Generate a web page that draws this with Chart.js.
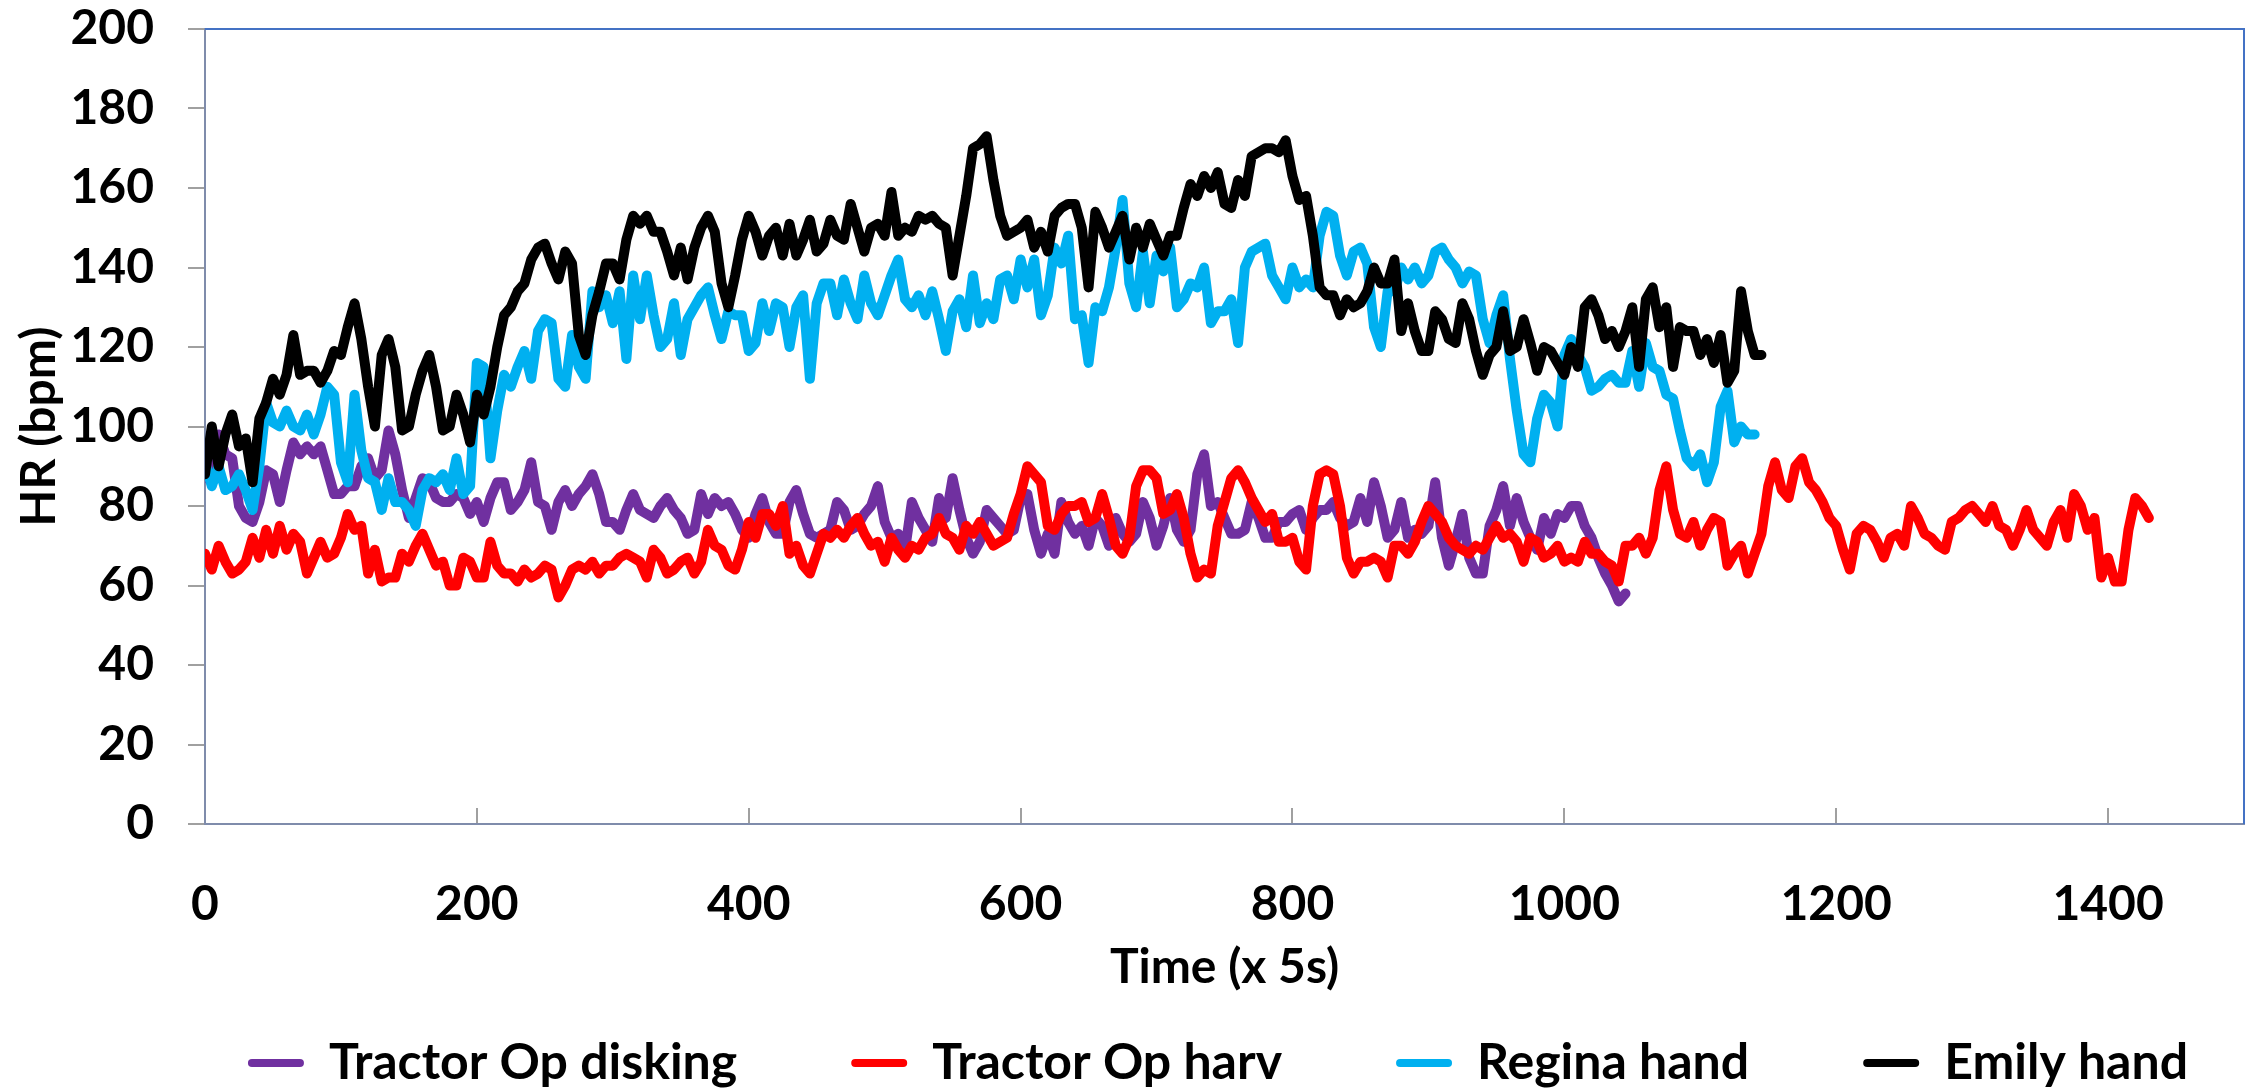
<!DOCTYPE html>
<html>
<head>
<meta charset="utf-8">
<title>HR over time</title>
<script src="https://cdn.jsdelivr.net/npm/chart.js@4.4.1/dist/chart.umd.min.js"></script>
<style>
  html, body { margin: 0; padding: 0; background: #fff; }
  #hrChart { display: block; }
</style>
</head>
<body>
<canvas id="hrChart" width="2246" height="1091"></canvas>
<script>
// samples every 5 time units (x 5s)
const sampleStep = 5;

const diskingHR = [
  87, 88, 98, 93, 92, 80, 77, 76, 81, 89, 88, 81, 89, 96, 93, 95, 93, 95, 89, 83,
  83, 85, 85, 90, 92, 87, 89, 99, 93, 84, 77, 82, 87, 86, 82, 81, 81, 83, 82, 78,
  81, 76, 82, 86, 86, 79, 81, 84, 91, 81, 80, 74, 81,
  84, 80, 83, 85, 88, 83, 76, 76, 74, 79, 83, 79, 78, 77, 80, 82, 79, 77, 73, 74,
  83, 78, 82, 80, 81, 78, 74, 72, 78, 82, 76, 73, 73, 81, 84, 78, 73, 72, 73, 74,
  81, 79, 74, 75, 78, 80, 85, 76, 72, 73,
  69, 81, 77, 74, 71, 82, 77, 87, 79, 72, 68, 71, 79, 77, 75, 73, 74, 82, 83, 74,
  68, 73, 68, 81, 76, 73, 75, 70, 77, 75, 70, 77, 73, 71, 73, 81, 77, 70, 75, 82,
  74, 71, 74, 88, 93, 80, 81, 77, 73,
  73, 74, 81, 77, 72, 72, 76, 76, 78, 79, 74, 77, 79, 79, 81, 77, 75, 76, 82, 76,
  86, 80, 72, 74, 81, 72, 74, 73, 75, 86, 72, 65, 71, 78, 67, 63, 63, 75, 79, 85,
  75, 82, 76, 72, 69, 77, 73, 78, 77, 80,
  80, 75, 72, 67, 63, 60, 56, 58
];

const harvHR = [
  68, 64, 70, 66, 63, 64, 66, 72, 67, 74, 68, 75, 69, 73, 71, 63, 67, 71, 67, 68,
  72, 78, 74, 75, 63, 69, 61, 62, 62, 68, 66, 70, 73, 69, 65, 66, 60, 60, 67, 66,
  62, 62, 71, 65, 63, 63, 61, 64, 62, 63, 65, 64, 57,
  60, 64, 65, 64, 66, 63, 65, 65, 67, 68, 67, 66, 62, 69, 67, 63, 64, 66, 67, 63,
  66, 74, 70, 69, 65, 64, 69, 76, 72, 78, 78, 75, 80, 68, 70, 65, 63, 68, 73, 72,
  74, 72, 75, 77, 73, 70, 71, 66, 72, 69,
  67, 70, 69, 72, 73, 77, 73, 72, 69, 75, 73, 76, 73, 70, 71, 72, 78, 83, 90, 88,
  86, 75, 74, 78, 80, 80, 81, 76, 77, 83, 77, 70, 68, 72, 85, 89, 89, 87, 78, 79,
  83, 77, 68, 62, 64, 63, 75, 81, 87,
  89, 86, 82, 79, 76, 78, 71, 71, 72, 66, 64, 80, 88, 89, 88, 80, 67, 63, 66, 66,
  67, 66, 62, 70, 70, 68, 71, 76, 80, 78, 76, 72, 70, 69, 68, 70, 69, 72, 75, 72,
  73, 71, 66, 72, 71, 67, 68, 70, 66, 67,
  66, 71, 68, 68, 66, 65, 61, 70, 70, 72, 68, 72, 84, 90, 79, 73, 72, 76, 70, 74,
  77, 76, 65, 68, 70, 63, 68, 73, 85, 91, 84, 82, 90, 92, 86, 84, 81, 77, 75, 69,
  64, 73, 75, 74, 71, 67, 72, 73, 70, 80,
  77, 73, 72, 70, 69, 76, 77, 79, 80, 78, 76, 80, 75, 74, 70, 74, 79, 74, 72, 70,
  76, 79, 72, 83, 80, 74, 77, 62, 67, 61, 61, 74, 82, 80, 77
];

const reginaHR = [
  91, 85, 90, 84, 85, 88, 84, 79, 90, 106, 101, 100, 104, 100, 99, 103, 98, 103, 110, 108,
  91, 86, 108, 94, 87, 86, 79, 87, 81, 81, 79, 75, 84, 87, 86, 88, 84, 92, 83, 85,
  116, 115, 92, 104, 113, 110, 115, 119, 112, 124, 127, 126, 112,
  110, 123, 115, 112, 134, 130, 133, 126, 134, 117, 138, 127, 138, 128, 120, 122, 131, 118, 127, 130,
  133, 135, 128, 122, 129, 128, 128, 119, 121, 131, 124, 131, 130, 120, 130, 133, 112, 131, 136, 136,
  128, 137, 131, 127, 138, 131, 128, 133, 138, 142,
  132, 130, 133, 128, 134, 127, 119, 129, 132, 125, 138, 126, 131, 127, 137, 138, 132, 142, 135, 142,
  128, 133, 145, 141, 148, 127, 128, 116, 130, 129, 135, 145, 157, 136, 130, 144, 131, 143, 139, 145,
  130, 132, 136, 135, 140, 126, 129, 129, 132,
  121, 140, 144, 145, 146, 138, 135, 132, 140, 135, 137, 135, 148, 154, 153, 143, 138, 144, 145, 141,
  125, 120, 134, 134, 140, 137, 140, 136, 138, 144, 145, 142, 140, 136, 139, 138, 127, 121, 128, 133,
  117, 104, 93, 91, 102, 108, 106, 100, 118, 122,
  118, 115, 109, 110, 112, 113, 111, 111, 119, 110, 121, 115, 114, 108, 107, 99, 92, 90, 93, 86,
  91, 105, 109, 96, 100, 98, 98
];

const emilyHR = [
  88, 100, 90, 98, 103, 95, 97, 86, 102, 106, 112, 108, 113, 123, 113, 114, 114, 111, 114, 119,
  118, 125, 131, 122, 110, 100, 118, 122, 115, 99, 100, 108, 114, 118, 110, 99, 100, 108, 103, 96,
  108, 103, 110, 120, 128, 130, 134, 136, 142, 145, 146, 141, 137,
  144, 141, 123, 118, 128, 134, 141, 141, 137, 147, 153, 151, 153, 149, 149, 144, 138, 145, 137, 145,
  150, 153, 149, 136, 130, 138, 147, 153, 149, 143, 148, 150, 143, 151, 143, 147, 152, 144, 146, 152,
  148, 147, 156, 150, 144, 150, 151, 148, 159, 148,
  150, 149, 153, 152, 153, 151, 150, 138, 148, 158, 170, 171, 173, 162, 153, 148, 149, 150, 152, 145,
  149, 144, 153, 155, 156, 156, 150, 135, 154, 150, 145, 149, 153, 142, 150, 145, 151, 147, 143, 148,
  148, 155, 161, 158, 163, 160, 164, 156, 155,
  162, 158, 168, 169, 170, 170, 169, 172, 163, 157, 158, 148, 135, 133, 133, 128, 132, 130, 131, 134,
  140, 136, 136, 142, 124, 131, 124, 119, 119, 129, 127, 122, 121, 131, 127, 119, 113, 118, 120, 129,
  119, 120, 127, 121, 114, 120, 119, 116, 113, 120,
  115, 130, 132, 128, 122, 124, 120, 124, 130, 115, 132, 135, 125, 130, 115, 125, 124, 124, 118, 122,
  116, 123, 111, 114, 134, 124, 118, 118
];

const seriesNames = ['Tractor Op disking', 'Tractor Op harv', 'Regina hand', 'Emily hand'];
const seriesColors = ['#7030A0', '#FF0000', '#00B0F0', '#000000'];
const xTicks = [0, 200, 400, 600, 800, 1000, 1200, 1400];
const yTicks = [0, 20, 40, 60, 80, 100, 120, 140, 160, 180, 200];

const toPoints = (values) => values.map((v, i) => ({ x: i * sampleStep, y: v }));

const boldFont = (size) => ({ family: 'Lato', weight: 'bold', size });

// top and right edges of the plot area
const plotFrame = {
  id: 'plotFrame',
  beforeDatasetsDraw(chart) {
    const { ctx, chartArea: a } = chart;
    ctx.save();
    ctx.strokeStyle = '#4472C4';
    ctx.lineWidth = 2;
    ctx.beginPath();
    ctx.moveTo(a.left, a.top);
    ctx.lineTo(a.right, a.top);
    ctx.lineTo(a.right, a.bottom);
    ctx.stroke();
    ctx.restore();
  }
};

// Excel puts the legend a bit right of centre and lower than chart.js would
const legendNudge = {
  id: 'legendNudge',
  afterLayout(chart) {
    const lg = chart.legend;
    const pad = lg.options.labels.padding;
    lg.top = 1063 - pad - lg.options.labels.font.size / 2;
    lg.bottom = chart.height;
    lg.left += 96;
    lg.right += 96;
  }
};

const datasets = [diskingHR, harvHR, reginaHR, emilyHR].map((values, i) => ({
  label: seriesNames[i],
  data: toPoints(values),
  borderColor: seriesColors[i],
  backgroundColor: seriesColors[i],
  borderWidth: 10,
  borderJoinStyle: 'round',
  borderCapStyle: 'round',
  pointRadius: 0,
  tension: 0,
  order: 4 - i
}));

new Chart(document.querySelector('#hrChart'), {
  type: 'line',
  data: { datasets },
  options: {
    responsive: false,
    animation: false,
    devicePixelRatio: 1,
    layout: { padding: { top: 29, right: 2, left: 0, bottom: 0 } },
    plugins: {
      tooltip: { enabled: false },
      legend: {
        position: 'bottom',
        maxHeight: 95,
        labels: {
          color: '#000',
          font: boldFont(50),
          boxWidth: 56,
          boxHeight: 8,
          padding: 114,
          useBorderRadius: true,
          sort: (a, b) => a.datasetIndex - b.datasetIndex,
          generateLabels: (chart) =>
            Chart.defaults.plugins.legend.labels.generateLabels(chart)
              .map((item) => ({ ...item, lineWidth: 0, borderRadius: 4 }))
        }
      }
    },
    scales: {
      x: {
        type: 'linear',
        min: 0,
        max: 1500,
        afterFit: (scale) => {
          scale.height = 172;
          scale.paddingLeft = 0;
          scale.paddingRight = 0;
        },
        afterBuildTicks: (scale) => { scale.ticks = xTicks.map((v) => ({ value: v })); },
        ticks: { color: '#000', font: boldFont(48), padding: 68, maxRotation: 0, callback: (v) => String(v) },
        grid: { drawOnChartArea: false, tickLength: -16, color: '#A0A0A0', lineWidth: 2 },
        border: { color: '#7F8CAB', width: 2 },
        title: { display: true, text: 'Time (x 5s)', color: '#000', font: boldFont(48), padding: 0 }
      },
      y: {
        min: 0,
        max: 200,
        afterFit: (scale) => {
          scale.width = 205;
          scale.paddingTop = 0;
          scale.paddingBottom = 0;
        },
        afterBuildTicks: (scale) => { scale.ticks = yTicks.map((v) => ({ value: v })); },
        ticks: { color: '#000', font: boldFont(48), padding: 34, callback: (v) => String(v) },
        grid: { drawOnChartArea: false, tickLength: 17, color: '#A0A0A0', lineWidth: 2 },
        border: { color: '#7F8CAB', width: 2 },
        title: { display: true, text: 'HR (bpm)', color: '#000', font: boldFont(48), padding: { top: 11, bottom: 0 } }
      }
    }
  },
  plugins: [plotFrame, legendNudge]
});
</script>
</body>
</html>
